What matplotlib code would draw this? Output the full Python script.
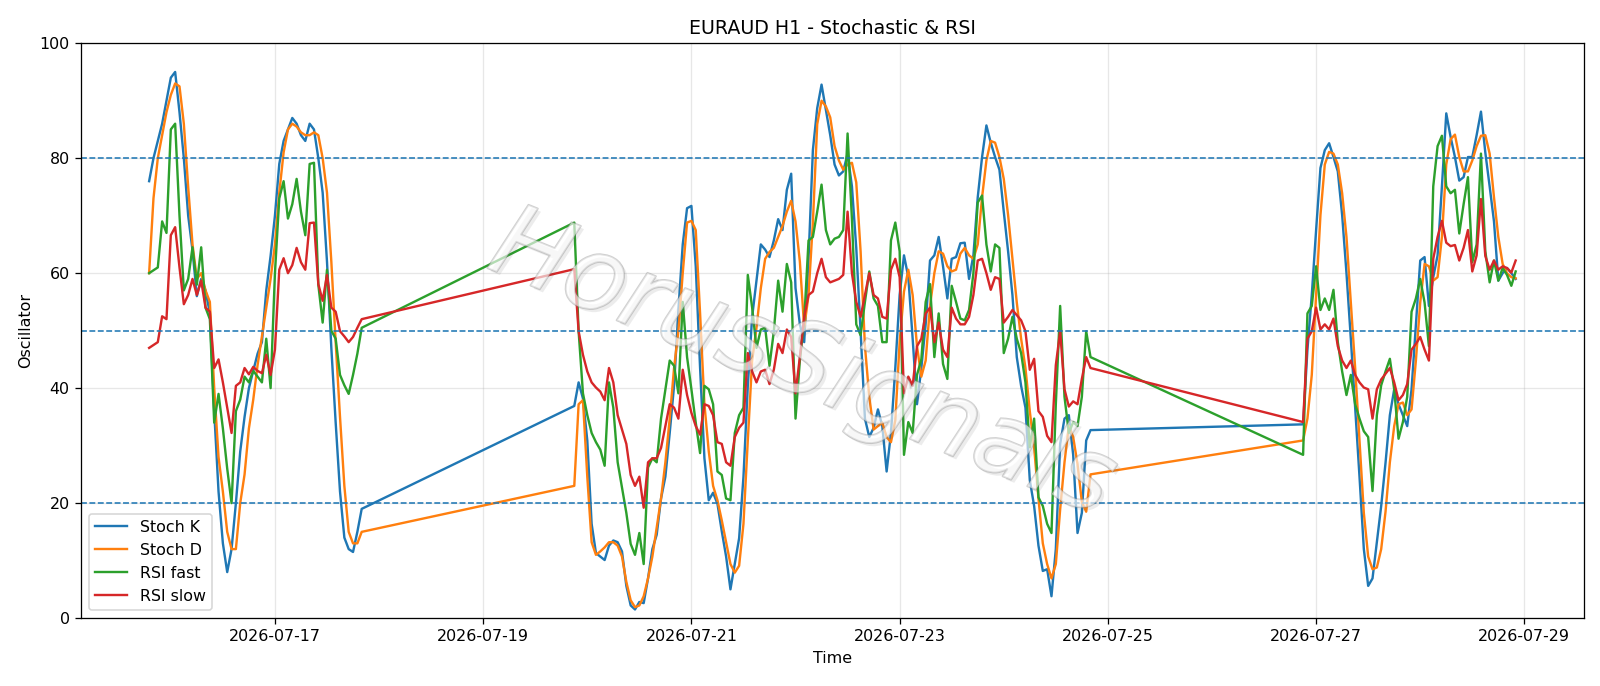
import numpy as np
import pandas as pd
import matplotlib
matplotlib.use("Agg")
import matplotlib.pyplot as plt
import matplotlib.dates as mdates
import matplotlib.patheffects as pe

# hourly bars, three trading sessions (weekend gaps in between)
sessions = [("2026-07-15 19:00", 50), ("2026-07-19 21:00", 120), ("2026-07-26 21:00", 50)]

stoch_k = [
    # session 1
    76, 80, 83, 86, 90, 94, 95, 88, 80, 70, 64, 56, 59, 57, 53, 36, 22, 13, 8, 12,
    20, 29, 35, 40, 43, 46, 48, 57, 63, 70, 79, 83, 85, 87, 86, 84, 83, 86, 85, 80,
    74, 62, 47, 34, 22, 14, 12, 11.5, 15, 19,
    # session 2
    36.9, 41, 38.2, 30.9, 16.4, 11.3, 10.7, 10.1, 12.6, 13.5,
    13.2, 11.6, 5.6, 2.2, 1.5, 2.8, 2.6, 6.9, 12, 14.5,
    20.8, 24.6, 32.2, 40.4, 53.6, 65, 71.3, 71.7, 61.2, 43.5,
    27.8, 20.5, 21.8, 19.9, 15.1, 10.7, 5, 9.4, 13.9, 24.6,
    40.4, 52.4, 58.7, 65, 64.1, 62.8, 65.7, 69.4, 67.5, 74.5,
    77.3, 57.4, 51.1, 48, 62.5, 81.4, 88.7, 92.8, 88.4, 84,
    78.9, 77, 77.7, 80.8, 75.1, 64.4, 49.9, 34.7, 31.5, 33.1,
    36.3, 33.4, 25.5, 32.2, 43.5, 56.2, 63.1, 59.3, 48.6, 37.2,
    43.5, 51.1, 62.2, 63.1, 66.3, 61.2, 55.6, 62.5, 62.8, 65.2,
    65.3, 59, 63.1, 73.2, 80.2, 85.7, 82.7, 80.2, 78, 70.7,
    63.8, 56.2, 45.4, 40.4, 36.6, 24, 19.5, 12.6, 8.2, 8.5,
    3.8, 12, 30.3, 34.7, 35.3, 28.4, 14.8, 18.3, 30.9, 32.7,
    # session 3
    33.7, 46.7, 56.2, 67.5, 78.3, 81.4, 82.6, 80.2, 77.7, 70.1,
    60, 48.6, 36.6, 24.6, 12, 5.6, 6.9, 13.2, 19.5, 27,
    35.3, 39.8, 37.2, 35.3, 33.4, 39.8, 51.1, 62.2, 62.8, 54.3,
    59.3, 63.1, 75.1, 87.8, 83.7, 80.2, 76.1, 76.7, 80.2, 80.2,
    84, 88.1, 81, 75.1, 69, 58.7, 60, 60.9, 60, 59,
]

stoch_d = [
    60, 73, 80, 84, 88, 91, 93, 92.5, 86, 75, 65, 59, 60, 57, 55, 40, 28, 22, 15, 12,
    12, 20, 25, 33, 38, 44, 49, 54, 59, 65, 74, 81, 85, 86, 85.5, 84.5, 84, 84, 84.5, 84,
    80, 74, 62, 48, 35, 23, 15, 13, 13, 15,
    23, 37.2, 37.9, 24.6, 13.2, 11, 11.6, 12.3, 13.2, 13.2,
    12.6, 10.7, 6.3, 3.1, 1.9, 2.2, 3.8, 6.9, 10.7, 15.8,
    20.8, 27.1, 34.7, 43.5, 49.9, 60, 68.8, 69.1, 67.5, 53,
    37.2, 29, 23, 20.5, 17, 13.2, 9.4, 7.9, 9.1, 16.4,
    30.9, 44.8, 50.5, 57.4, 62.5, 63.7, 64.4, 66.3, 68.2, 70.7,
    72.6, 69, 62, 50.5, 56.2, 68.8, 85.9, 90, 89, 87.1,
    82.1, 79.6, 78, 78.9, 79.2, 75.8, 63.8, 47.3, 38.5, 32.8,
    33.4, 34, 31.5, 30.6, 34.4, 48, 56.8, 60.6, 56.2, 47.3,
    42, 44.8, 54.3, 60, 63.8, 63.4, 61.2, 60.3, 60.6, 63.4,
    64.4, 63.1, 62.5, 65, 73.2, 79.6, 83, 82.7, 80.2, 76.4,
    70.1, 62.5, 54.9, 48.6, 43.5, 36, 29.7, 20.8, 13, 9.4,
    6.9, 9.4, 18.9, 27.1, 33.4, 31.5, 26.8, 20.2, 18.5, 25,
    30.9, 34.7, 42.3, 56.2, 70.1, 78.9, 81.1, 80.8, 78.9, 73.9,
    66.3, 54.9, 43.5, 30.9, 18.3, 10.7, 8.5, 8.8, 12, 18.5,
    27.1, 33.4, 37.2, 37.5, 35.3, 36.3, 44.8, 54.9, 61.6, 61.2,
    58.7, 59.3, 66.3, 78.9, 83.3, 84.1, 80.2, 77.7, 77.7, 79.6,
    82.1, 83.9, 84, 80.8, 73.2, 66.3, 61.6, 60, 59.3, 59.1,
]

rsi_fast = [
    60, 60.5, 61, 69, 67, 85, 86, 70, 57, 59, 64.5, 58, 64.5, 54, 52, 34, 39, 33, 26, 20,
    36, 38, 42, 41, 43, 42, 41, 48.6, 40, 60, 73, 76, 69.5, 72, 76.4, 70.7, 66.6, 79, 79.2, 58,
    51.4, 60.6, 50, 48.6, 42.3, 40.5, 39, 42.3, 46, 50.5,
    68.8, 49.9, 39.1, 35.3, 32.2, 30.6, 29.3, 26.5, 41, 36.6,
    27.1, 22.7, 18.3, 12.9, 11, 14.8, 9.4, 26.2, 27.8, 27.1,
    34.7, 39.8, 44.8, 43.9, 39.1, 55, 45.4, 39.8, 34, 28.7,
    40.4, 39.8, 37.2, 25.5, 24.9, 20.8, 20.5, 32.2, 35.3, 36.6,
    59.7, 54, 47, 50.2, 50.5, 43.9, 49.9, 58.7, 53.3, 61.6,
    58.4, 34.7, 44.8, 51.8, 65.7, 66.3, 70.7, 75.4, 67.5, 65,
    66, 66.3, 67.5, 84.3, 69.4, 51.1, 49.2, 55, 60.3, 55.6,
    54.3, 48, 48, 65.7, 68.8, 63.8, 28.4, 34.1, 32.2, 42.3,
    45, 55, 58.1, 45.4, 53, 44.2, 41.6, 57.8, 55, 52.1,
    51.8, 53.6, 60, 72.3, 73.5, 65, 60.3, 65, 64.4, 46.1,
    48.6, 52.4, 48.6, 46.1, 41, 29.7, 34.7, 21, 19.5, 16.4,
    14.8, 37.2, 54.3, 38.5, 32.2, 34.1, 33.4, 38.5, 49.9, 45.4,
    28.4, 53, 54.3, 61.2, 53.6, 55.6, 53.6, 57.1, 48, 42.9,
    38.8, 42.3, 37.2, 34.7, 32.5, 31.5, 22.1, 35.3, 40.5, 42.9,
    45.1, 39.8, 31.2, 34.1, 38.5, 53.3, 55.6, 59, 54.9, 47.3,
    75.1, 82.1, 83.9, 75.1, 73.9, 74.5, 66.9, 72, 76.7, 61.9,
    65, 80.8, 63.8, 58.4, 62.2, 58.7, 60.9, 59.7, 57.8, 60.3,
]

rsi_slow = [
    47, 47.5, 48, 52.5, 52, 66.6, 68, 61, 54.6, 56.2, 59, 56.2, 58.7, 54, 53.3, 43.5, 45, 41, 36.6, 32.2,
    40.4, 41, 43.5, 42.4, 43.7, 43, 42.6, 45.8, 42.3, 46.7, 60.6, 62.6, 60, 61.4, 64.4, 61.9, 60.6, 68.7, 68.8, 58.1,
    55.2, 59.7, 54, 53.3, 49.9, 49, 48, 48.9, 50.5, 52,
    60.7, 49.9, 45.8, 42.9, 41, 40.1, 39.4, 37.9, 43.5, 41,
    35.3, 32.8, 30.3, 24.9, 23, 24.6, 19.2, 27.1, 27.8, 27.8,
    29.6, 33.4, 37.2, 36.6, 34.7, 43.2, 38.8, 35.7, 33.4, 31.9,
    37.2, 36.9, 35.3, 30.6, 30.3, 27.1, 26.5, 31.5, 33.1, 34,
    46.1, 42.9, 41, 42.9, 43.2, 40.7, 43.2, 47.7, 46.1, 50.2,
    48.9, 39.1, 45.4, 52.4, 56.2, 56.8, 60, 62.5, 59.3, 58.4,
    58.7, 59, 59.7, 70.7, 60, 55, 52.4, 56.2, 60, 56.2,
    55.6, 52.4, 52.1, 60.6, 62.5, 59.3, 39.1, 42, 40.4, 47.3,
    48.6, 53, 54, 48, 51.4, 46.7, 45.4, 54, 52.1, 51.1,
    51.1, 52.4, 56.2, 62.2, 62.5, 60, 57.1, 59.3, 59, 51.4,
    52.4, 53.6, 52.7, 51.8, 49.9, 43.2, 45.1, 36, 35, 31.7,
    30.6, 44, 49.9, 39.8, 36.8, 37.7, 37.2, 41.6, 45.4, 43.5,
    34.1, 48.6, 49.9, 54, 50.2, 51.1, 50.2, 52.1, 47.3, 44.8,
    43.5, 44.8, 42.3, 41, 40.1, 39.8, 34.7, 39.8, 41.5, 42.5,
    43.5, 41, 37.9, 38.8, 40.7, 46.7, 47.7, 48.9, 46.7, 44.8,
    62.5, 66.3, 69.1, 65.3, 64.7, 64.9, 62.2, 64.4, 67.5, 60.3,
    63.1, 72.9, 63, 60.6, 62.2, 60.6, 61.2, 60.9, 60.1, 62.2,
]

levels = [80, 50, 20]
tick_days = ["2026-07-17", "2026-07-19", "2026-07-21", "2026-07-23",
             "2026-07-25", "2026-07-27", "2026-07-29"]

times = pd.DatetimeIndex(np.concatenate(
    [pd.date_range(start, periods=n, freq="h") for start, n in sessions]))

DPI = 1600 / 14
fig, ax = plt.subplots(figsize=(14, 686 / DPI), dpi=DPI)
fig.subplots_adjust(left=0.0505, right=0.99, top=0.937, bottom=0.099)

ax.plot(times, stoch_k, label="Stoch K")
ax.plot(times, stoch_d, label="Stoch D")
ax.plot(times, rsi_fast, label="RSI fast")
ax.plot(times, rsi_slow, label="RSI slow")

for lv in levels:
    ax.axhline(lv, linestyle="--", linewidth=1, color="tab:blue")

ax.set_ylim(0, 100)
ax.set_xticks(pd.to_datetime(tick_days))
ax.xaxis.set_major_formatter(mdates.DateFormatter("%Y-%m-%d"))
ax.grid(True, alpha=0.3)
ax.set_title("EURAUD H1 - Stochastic & RSI")
ax.set_xlabel("Time")
ax.set_ylabel("Oscillator")
ax.legend(loc="lower left")

# watermark, drawn over the lines
ax.text(0.48, 0.44, "HorusSignals", transform=ax.transAxes, fontsize=64,
        rotation=-22, ha="center", va="center", color="white", alpha=0.4,
        style="italic", zorder=5,
        path_effects=[pe.SimplePatchShadow(offset=(2, -2), alpha=0.1),
                      pe.withStroke(linewidth=1.2, foreground="#8a8a8a")])

fig.savefig("out.png", dpi=DPI)
